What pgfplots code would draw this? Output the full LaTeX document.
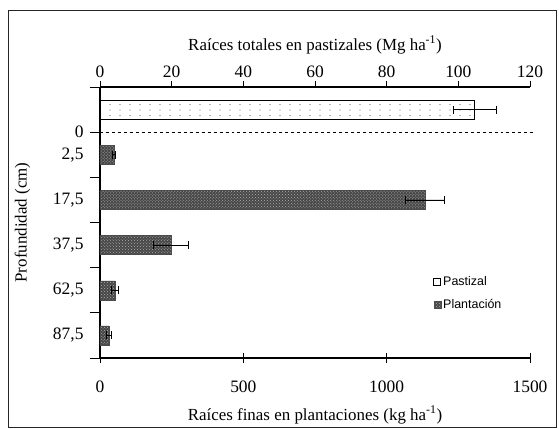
\documentclass[border=0pt]{standalone}
\usepackage{fontspec}
\setmainfont{Liberation Serif}
\newfontfamily\legfont{Liberation Sans}
\usepackage{pgfplots}
\pgfplotsset{compat=1.18}
\usetikzlibrary{patterns}

\pgfdeclarepatternformonly{sparsedots}{\pgfqpoint{-1pt}{-1pt}}{\pgfqpoint{1pt}{1pt}}{\pgfqpoint{10bp}{5.5bp}}{%
  \pgfpathcircle{\pgfqpoint{0pt}{0pt}}{0.55bp}\pgfusepath{fill}}

\pgfplotsset{
  base/.style={
    scale only axis, width=430bp, height=271bp,
    at={(0,0)}, anchor=south west,
    ymin=-1.5, ymax=4.5, y dir=reverse,
    xbar, bar width=19bp,
    /pgf/number format/assume math mode=true,
    /pgf/number format/1000 sep={},
    tick label style={font=\fontsize{17.5}{20}\selectfont},
    label style={font=\fontsize{17}{20}\selectfont},
    axis line style={line width=1.5bp},
    tick style={line width=0.8bp, black},
    error bars/error bar style={line width=0.8bp, black},
    error bars/error mark options={rotate=90, mark size=4bp, line width=0.8bp},
  },
  plantstyle/.style={draw=black!70, fill=black!72,
    postaction={pattern=crosshatch dots, pattern color=black!30}},
  paststyle/.style={draw=black, line width=0.8bp, fill=white,
    postaction={pattern=sparsedots, pattern color=black!55}},
}

\begin{document}
\begin{tikzpicture}
\path (-100bp,-71bp) rectangle (459bp,358bp);
\draw[line width=0.8bp, black!85] (-92bp,-69bp) rectangle (456bp,348bp);

% plantaciones (eje inferior, kg/ha)
\begin{axis}[base,
    clip=false,
    xmin=0, xmax=1500, xtick={0,500,1000,1500},
    axis x line*=bottom, axis y line*=left,
    xtick align=center, major tick length=10bp,
    xticklabel style={yshift=-14bp},
    xlabel={Raíces finas en plantaciones (kg ha\textsuperscript{-1})},
    xlabel style={yshift=-7bp},
    ytick={-1.5,-0.5,0.5,1.5,2.5,3.5,4.5},
    yticklabels={{},0,{},{},{},{},{}},
    ytick align=outside,
    extra y ticks={0,1,2,3,4},
    extra y tick labels={{2,5},{17,5},{37,5},{62,5},{87,5}},
    extra y tick style={tick style={draw=none}},
    yticklabel style={xshift=-3bp},
    ylabel={Profundidad (cm)},
    ylabel style={yshift=6bp},
    legend style={at={(0.775,0.31)}, anchor=north west, draw=none, fill=none,
      font=\legfont\fontsize{12.5}{14}\selectfont, row sep=9bp,
      inner sep=0pt},
    legend image code/.code={\draw[#1] (0bp,-3.5bp) rectangle (7bp,3.5bp);},
    legend cell align=left,
  ]
  \addlegendimage{draw=black, line width=0.8bp, fill=white}
  \addlegendentry{Pastizal}
  \addplot[plantstyle, error bars/.cd, x dir=both, x explicit]
    coordinates {
      (48,0) +- (5,0)
      (1135,1) +- (68,0)
      (248,2) +- (61,0)
      (52,3) +- (12,0)
      (31,4) +- (10,0)
    };
  \addlegendentry{Plantación}
  \draw[dashed, line width=0.8bp] (axis cs:0,-0.5) -- (axis cs:1520,-0.5);
\end{axis}

% pastizales (eje superior, Mg/ha)
\begin{axis}[base,
    xmin=0, xmax=120, xtick={0,20,...,120},
    axis x line*=top, axis y line=none,
    xtick align=outside, major tick length=6bp,
    xticklabel style={yshift=0bp},
    xlabel={Raíces totales en pastizales (Mg ha\textsuperscript{-1})},
    xlabel style={yshift=5bp},
  ]
  \addplot[paststyle, error bars/.cd, x dir=both, x explicit]
    coordinates {(104.5,-1) +- (6,0)};
\end{axis}
\end{tikzpicture}
\end{document}
